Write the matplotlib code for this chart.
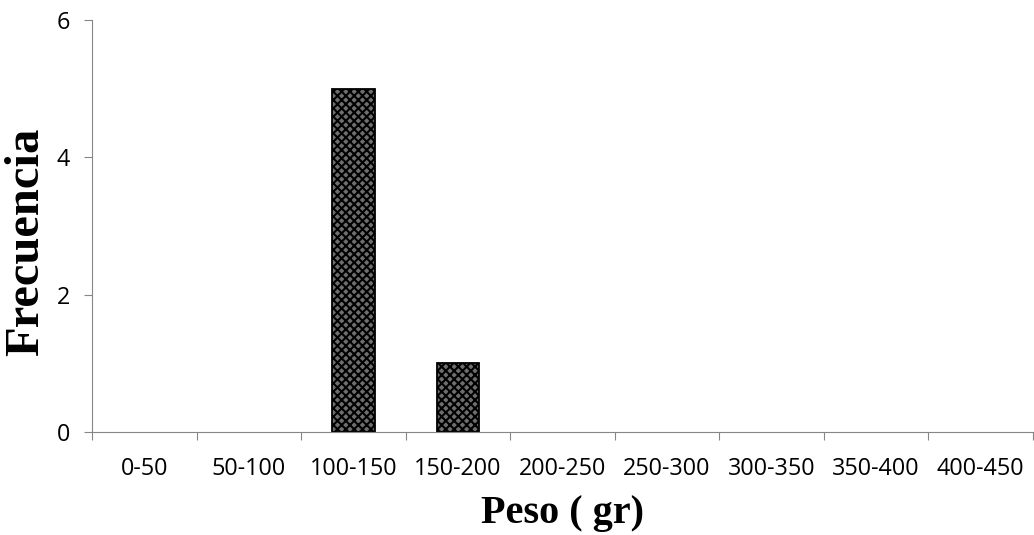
import matplotlib.pyplot as plt
import numpy as np

plt.rcParams['hatch.color'] = 'black'
plt.rcParams['hatch.linewidth'] = 1.5

clases = ['0-50', '50-100', '100-150', '150-200', '200-250', '250-300',
          '300-350', '350-400', '400-450']
frecuencia = [0, 0, 5, 1, 0, 0, 0, 0, 0]

fig = plt.figure(figsize=(10.34, 5.35), dpi=100)
ax = fig.add_axes([0.089, 0.1925, 0.91, 0.77])

x = np.arange(len(clases))
# empty classes get no outline so nothing shows on the baseline
bordes = [1.3 if f > 0 else 0 for f in frecuencia]
ax.bar(x, frecuencia, width=0.41, color='#6e6e6e', edgecolor='black',
       linewidth=bordes, hatch='xxxx')

ax.set_xlim(-0.5, len(clases) - 0.5)
ax.set_ylim(0, 6)
ax.set_yticks([0, 2, 4, 6])

# category labels between boundary ticks
ax.set_xticks(np.arange(len(clases) + 1) - 0.5)
ax.set_xticklabels([])
ax.set_xticks(x, minor=True)
ax.set_xticklabels(clases, minor=True, fontsize=16.8, family='Open Sans')
ax.tick_params(axis='x', which='minor', length=0, pad=18)
ax.tick_params(axis='x', which='major', length=6, color='#868686', direction='out')
ax.tick_params(axis='y', length=6, color='#868686', labelsize=16.8, pad=10)
for lab in ax.get_yticklabels():
    lab.set_family('Open Sans')

for s in ['top', 'right']:
    ax.spines[s].set_visible(False)
for s in ['left', 'bottom']:
    ax.spines[s].set_color('#868686')

ax.set_xlabel('Peso ( gr)', fontsize=29, fontweight='bold',
              family='Liberation Serif', va='center')
ax.set_ylabel('Frecuencia', fontsize=35, fontweight='bold',
              family='Liberation Serif', va='center')
ax.xaxis.set_label_coords(0.5, -0.199)
ax.yaxis.set_label_coords(-0.070, 0.461)

fig.savefig('out.png', dpi=100)
